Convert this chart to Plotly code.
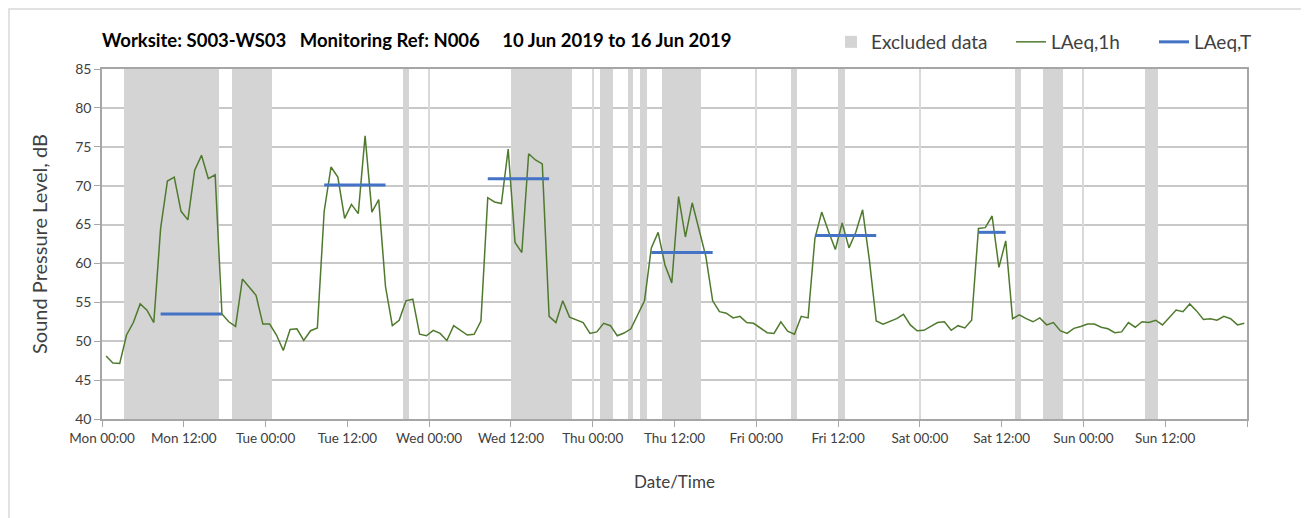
import plotly.graph_objects as go
import pandas as pd

# ---------------- data ----------------
laeq_1h = [
    48.1, 47.2, 47.15, 50.8, 52.4, 54.8, 54.0, 52.4, 64.5, 70.6,
    71.1, 66.7, 65.6, 72.0, 73.9, 70.9, 71.4, 53.5, 52.5, 51.9,
    58.0, 57.0, 55.9, 52.2, 52.2, 50.8, 48.8, 51.5, 51.6, 50.1,
    51.35, 51.7, 66.7, 72.4, 71.1, 65.8, 67.6, 66.4, 76.4, 66.6,
    68.2, 57.0, 52.0, 52.7, 55.2, 55.4, 50.9, 50.7, 51.4, 51.0,
    50.1, 52.0, 51.35, 50.8, 50.9, 52.6, 68.45, 67.9, 67.7, 74.7,
    62.7, 61.4, 74.1, 73.3, 72.8, 53.2, 52.4, 55.2, 53.1, 52.7,
    52.4, 51.0, 51.2, 52.3, 52.0, 50.7, 51.05, 51.6, 53.5, 55.2,
    62.0, 64.0, 59.8, 57.5, 68.6, 63.4, 67.8, 64.3, 60.9, 55.2,
    53.8, 53.6, 53.0, 53.2, 52.4, 52.3, 51.7, 51.1, 51.0, 52.5,
    51.3, 50.9, 53.2, 53.0, 63.2, 66.6, 64.1, 61.8, 65.2, 62.0,
    64.0, 66.9, 60.4, 52.6, 52.2, 52.6, 52.9, 53.45, 52.1, 51.35,
    51.4, 51.9, 52.4, 52.5, 51.4, 52.0, 51.7, 52.7, 64.5, 64.6,
    66.1, 59.5, 62.9, 52.9, 53.4, 52.9, 52.5, 53.0, 52.1, 52.4,
    51.35, 51.0, 51.65, 51.9, 52.2, 52.2, 51.8, 51.6, 51.1, 51.2,
    52.4, 51.8, 52.5, 52.4, 52.7, 52.1, 53.1, 54.0, 53.8, 54.8,
    53.9, 52.8, 52.9, 52.7, 53.2, 52.9, 52.1, 52.3,
]
first_time = "2019-06-10 00:36"

laeq_t = [53.5, 70.1, 70.9, 61.4, 63.6, 64.0]
laeq_t_start = ["2019-06-10 08:36", "2019-06-11 08:36", "2019-06-12 08:36",
                "2019-06-13 08:36", "2019-06-14 08:36", "2019-06-15 08:36"]
laeq_t_end = ["2019-06-10 17:36", "2019-06-11 17:36", "2019-06-12 17:36",
              "2019-06-13 17:36", "2019-06-14 17:36", "2019-06-15 12:36"]

excl_start = ["2019-06-10 03:10", "2019-06-10 19:06", "2019-06-11 20:06",
              "2019-06-12 12:00", "2019-06-13 01:06", "2019-06-13 05:12",
              "2019-06-13 07:00", "2019-06-13 10:06", "2019-06-14 05:06",
              "2019-06-14 12:03", "2019-06-15 14:00", "2019-06-15 18:06",
              "2019-06-16 09:03"]
excl_end = ["2019-06-10 17:06", "2019-06-11 01:00", "2019-06-11 21:06",
            "2019-06-12 21:00", "2019-06-13 03:00", "2019-06-13 05:54",
            "2019-06-13 07:54", "2019-06-13 15:54", "2019-06-14 06:00",
            "2019-06-14 13:00", "2019-06-15 14:54", "2019-06-15 21:00",
            "2019-06-16 11:00"]

tick_text = ["Mon 00:00", "Mon 12:00", "Tue 00:00", "Tue 12:00", "Wed 00:00",
             "Wed 12:00", "Thu 00:00", "Thu 12:00", "Fri 00:00", "Fri 12:00",
             "Sat 00:00", "Sat 12:00", "Sun 00:00", "Sun 12:00", ""]
axis_start = "2019-06-10 00:00"
axis_end = "2019-06-17 00:00"
y_min, y_max = 40, 85

title_text = ("Worksite: S003-WS03\u00a0\u00a0\u00a0Monitoring Ref: N006"
              "\u00a0\u00a0\u00a0\u00a0\u00a010 Jun 2019 to 16 Jun 2019")

# ---------------- build ----------------
times = pd.date_range(first_time, periods=len(laeq_1h), freq="h")
tickvals = pd.date_range(axis_start, axis_end, freq="12h")
dayvals = pd.date_range(axis_start, axis_end, freq="24h")

es = pd.to_datetime(excl_start)
ee = pd.to_datetime(excl_end)
mid = es + (ee - es) / 2
widths = [(b - a).total_seconds() * 1000 for a, b in zip(es, ee)]

tx, ty = [], []
for s, e, v in zip(laeq_t_start, laeq_t_end, laeq_t):
    tx += [pd.Timestamp(s), pd.Timestamp(e), None]
    ty += [v, v, None]

FONT = "Lato, 'Open Sans', sans-serif"
L, R, T, B = 94, 62, 61, 99
W, H = 1301, 510
PW = W - L - R
PH = H - T - B

fig = go.Figure()
fig.add_trace(go.Bar(
    x=mid, y=[y_max - y_min] * len(mid), base=y_min, width=widths,
    marker=dict(color="#D4D4D4", line=dict(width=0)),
    name="Excluded data", hoverinfo="skip", legend="legend"))
fig.add_trace(go.Scatter(
    x=times, y=laeq_1h, mode="lines", name="LAeq,1h",
    line=dict(color="#4F7A2E", width=1.5), legend="legend2"))
fig.add_trace(go.Scatter(
    x=tx, y=ty, mode="lines", name="LAeq,T",
    line=dict(color="#4472C4", width=3), legend="legend3"))
# invisible helper so the daily grid axis is rendered
fig.add_trace(go.Scatter(x=[axis_start], y=[None], xaxis="x2", showlegend=False,
                         hoverinfo="skip", mode="lines"))


def leg(xpx):
    return dict(orientation="h", x=(xpx - 8 - L) / PW, xanchor="left",
                y=1 + (T + 8 - 42) / PH, yanchor="middle",
                font=dict(size=19, color="#404040"), bgcolor="rgba(0,0,0,0)",
                itemwidth=30)


fig.update_layout(
    width=W, height=H,
    margin=dict(l=L, r=R, t=T, b=B, autoexpand=False),
    paper_bgcolor="white", plot_bgcolor="white",
    font=dict(family=FONT, color="#404040"),
    bargap=0,
    showlegend=True,
    legend=leg(831), legend2=leg(1011), legend3=leg(1154),
    xaxis=dict(
        type="date", range=[axis_start, axis_end],
        tickmode="array", tickvals=tickvals, ticktext=tick_text,
        ticks="outside", ticklen=6, tickcolor="#A6A6A6", tickwidth=1,
        tickfont=dict(size=13.5, color="#404040"),
        showgrid=False, showline=True, linecolor="#A6A6A6", linewidth=1.5,
        mirror=True, zeroline=False, automargin=False,
        title=dict(text="Date/Time", font=dict(size=17, color="#404040"), standoff=31),
    ),
    xaxis2=dict(
        type="date", range=[axis_start, axis_end], overlaying="x",
        tickmode="array", tickvals=dayvals, showticklabels=False, ticks="",
        showgrid=True, gridcolor="#D9D9D9", gridwidth=1.5, showline=False,
        zeroline=False, automargin=False,
    ),
    yaxis=dict(
        range=[y_min, y_max], dtick=5, tick0=40,
        ticks="outside", ticklen=6, tickcolor="#A6A6A6",
        tickfont=dict(size=14, color="#404040"),
        showgrid=True, gridcolor="#C8C8C8", gridwidth=1.5,
        showline=True, linecolor="#A6A6A6", linewidth=1.5, mirror=True,
        zeroline=False, automargin=False,
        title=dict(text="Sound Pressure Level, dB", font=dict(size=20, color="#404040"),
                   standoff=22),
    ),
    annotations=[dict(
        text="<b>" + title_text + "</b>", xref="paper", yref="paper",
        x=(100 - 8 - L) / PW, y=1 + (T + 8 - 40) / PH, xanchor="left", yanchor="middle",
        showarrow=False, font=dict(size=18.5, color="#000000", family=FONT))],
    shapes=[dict(type="rect", xref="paper", yref="paper",
                 x0=-(L - 1) / PW, x1=1 + (R + 20) / PW,
                 y0=-(B + 20) / PH, y1=1 + (T - 1) / PH,
                 line=dict(color="#D9D9D9", width=1.5), layer="below")],
)

fig.write_html("out.html")
